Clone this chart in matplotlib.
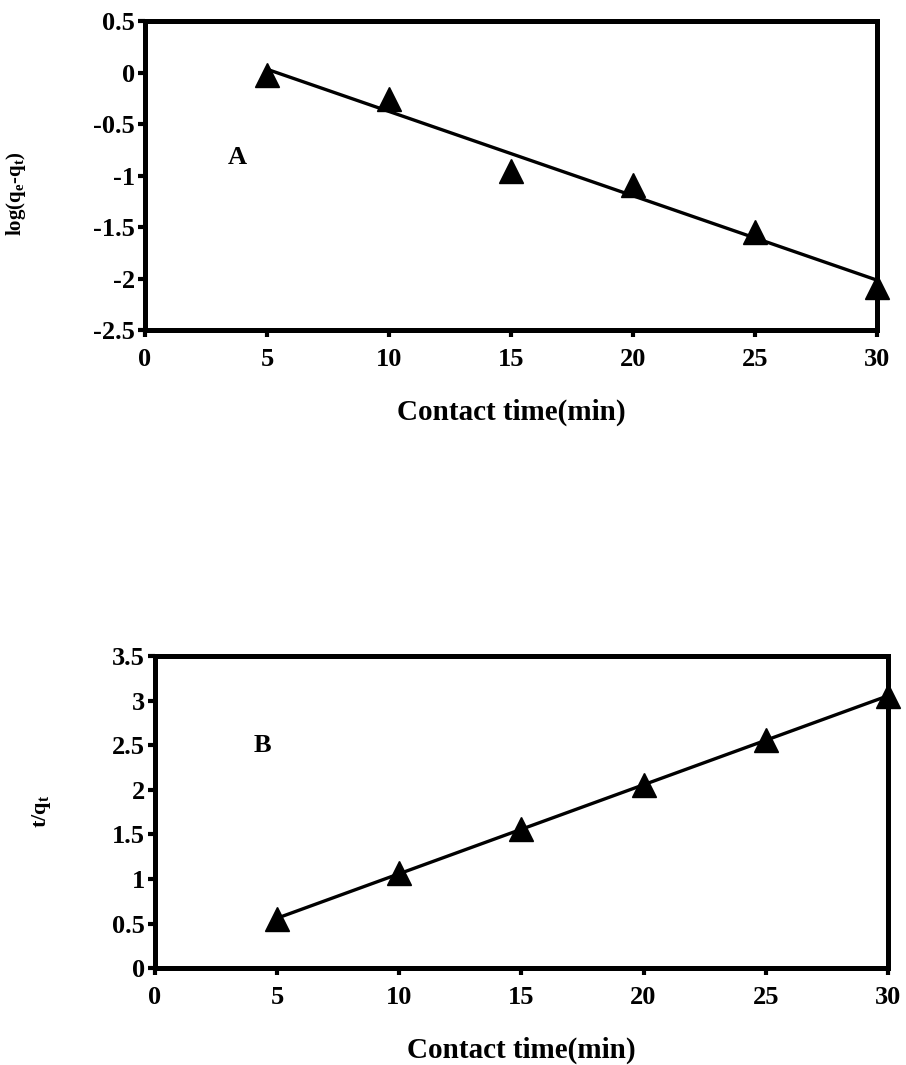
import numpy as np
import matplotlib
matplotlib.use("Agg")
import matplotlib.pyplot as plt

plt.rcParams['font.family'] = ['Liberation Serif', 'DejaVu Serif']
plt.rcParams['font.weight'] = 'bold'
plt.rcParams['mathtext.fontset'] = 'custom'
plt.rcParams['mathtext.rm'] = 'Liberation Serif:bold'
plt.rcParams['mathtext.it'] = 'Liberation Serif:bold'
plt.rcParams['mathtext.bf'] = 'Liberation Serif:bold'

# Data
time_min = [5, 10, 15, 20, 25, 30]
log_qe_qt = [-0.02, -0.25, -0.95, -1.09, -1.55, -2.08]
t_over_qt = [0.55, 1.07, 1.56, 2.05, 2.56, 3.05]

xticks = [0, 5, 10, 15, 20, 25, 30]
yticks_a = [-2.5, -2, -1.5, -1, -0.5, 0, 0.5]
yticks_b = [0, 0.5, 1, 1.5, 2, 2.5, 3, 3.5]

fig = plt.figure(figsize=(9.06, 10.65), dpi=100)
axA = fig.add_axes([0.160, 0.690, 0.808, 0.290])
axB = fig.add_axes([0.171, 0.091, 0.809, 0.293])


def fmt(v):
    return '%g' % v


def style(ax, yticks, ylim):
    ax.set_xlim(0, 30)
    ax.set_ylim(*ylim)
    ax.set_xticks(xticks)
    ax.set_xticklabels([fmt(v) for v in xticks])
    ax.set_yticks(yticks)
    ax.set_yticklabels([fmt(v) for v in yticks])
    for sp in ax.spines.values():
        sp.set_linewidth(3.6)
    ax.tick_params(axis='both', direction='out', length=5, width=3,
                   labelsize=19, top=False, right=False)
    ax.tick_params(axis='x', pad=8)
    ax.tick_params(axis='y', pad=2)
    for lab in ax.get_xticklabels() + ax.get_yticklabels():
        lab.set_fontweight('bold')
    ax.set_xlabel('Contact time(min)', fontsize=21, fontweight='bold', labelpad=20)


def draw(ax, x, y):
    x = np.asarray(x, float)
    y = np.asarray(y, float)
    k, b = np.polyfit(x, y, 1)
    xx = np.array([x.min(), x.max()])
    ax.plot(xx, k * xx + b, color='black', lw=2.4, zorder=2, clip_on=False)
    ax.plot(x, y, linestyle='none', marker='^', markersize=17,
            color='black', zorder=3, clip_on=False)


draw(axA, time_min, log_qe_qt)
style(axA, yticks_a, (-2.5, 0.5))
axA.set_ylabel(r'log(q$_\mathregular{e}$-q$_\mathregular{t}$)', fontsize=15, fontweight='bold')
axA.yaxis.set_label_coords(-0.160, 0.443)
axA.text(3.8, -0.82, 'A', fontsize=19, fontweight='bold', ha='center', va='center')

draw(axB, time_min, t_over_qt)
style(axB, yticks_b, (0, 3.5))
axB.set_ylabel(r't/q$_\mathregular{t}$', fontsize=16, fontweight='bold')
axB.yaxis.set_label_coords(-0.139, 0.503)
axB.text(4.4, 2.5, 'B', fontsize=19, fontweight='bold', ha='center', va='center')

fig.savefig('out.png', dpi=100)
